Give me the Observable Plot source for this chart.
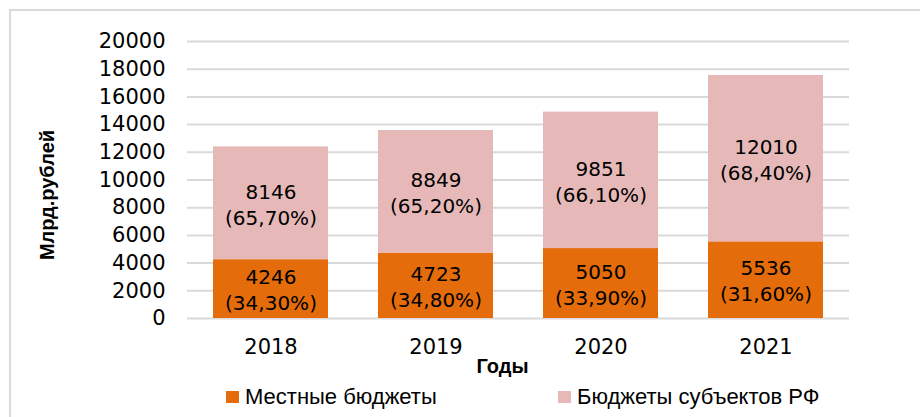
<!DOCTYPE html>
<html>
<head>
<meta charset="utf-8">
<script src="https://cdn.jsdelivr.net/npm/d3@7"></script>
<script src="https://cdn.jsdelivr.net/npm/@observablehq/plot@0.6"></script>
<style>
  html, body { margin: 0; padding: 0; background: #fff; overflow: hidden; }
  #wrap { position: relative; width: 920px; height: 417px; font-family: "DejaVu Sans", sans-serif; }
  #border { position: absolute; left: 9px; top: 9px; width: 1000px; height: 1000px; border: 2px solid #d9d9d9; box-sizing: border-box; }
  #chart { position: absolute; left: 0; top: 0; }
  .leg { position: absolute; top: 384px; font-family: "Liberation Sans", Arial, sans-serif; font-size: 22px; color: #000; display: flex; align-items: center; white-space: nowrap; }
  .sw { width: 13px; height: 12px; margin-right: 6px; display: inline-block; }
</style>
</head>
<body>
<div id="wrap">
  <div id="border"></div>
  <div id="chart"></div>
  <div class="leg" style="left:226px"><span class="sw" id="sw0"></span><span id="lg0"></span></div>
  <div class="leg" style="left:558px"><span class="sw" id="sw1"></span><span id="lg1"></span></div>
</div>
<script>
const years = ["2018", "2019", "2020", "2021"];
const seriesNames = ["Местные бюджеты", "Бюджеты субъектов РФ"];
const localValues = [4246, 4723, 5050, 5536];
const regionalValues = [8146, 8849, 9851, 12010];
const localShares = ["34,30%", "34,80%", "33,90%", "31,60%"];
const regionalShares = ["65,70%", "65,20%", "66,10%", "68,40%"];
const colors = ["#E46C0A", "#E6B9B8"];
const yTicks = [0, 2000, 4000, 6000, 8000, 10000, 12000, 14000, 16000, 18000, 20000];
const yTitle = "Млрд.рублей";
const xTitle = "Годы";

const rows = [];
years.forEach((y, i) => {
  rows.push({year: y, series: seriesNames[0], value: localValues[i], label: `${localValues[i]}\n(${localShares[i]})`});
});
years.forEach((y, i) => {
  rows.push({year: y, series: seriesNames[1], value: regionalValues[i], label: `${regionalValues[i]}\n(${regionalShares[i]})`});
});

const plot = Plot.plot({
  width: 920,
  height: 380,
  marginTop: 41,
  marginBottom: 62,
  marginLeft: 187,
  marginRight: 71,
  style: {fontFamily: "'DejaVu Sans', sans-serif", fontSize: "21px", color: "#000", background: "transparent"},
  x: {domain: years, paddingInner: 0.3, paddingOuter: 0.15, label: null},
  y: {domain: [0, 20000], label: null},
  color: {domain: seriesNames, range: colors},
  marks: [
    Plot.ruleY(yTicks, {stroke: "#d9d9d9", strokeWidth: 2}),
    Plot.barY(rows, Plot.stackY({x: "year", y: "value", z: "series", fill: "series"})),
    Plot.text(rows, Plot.stackY({x: "year", y: "value", z: "series", text: "label", fontSize: 20, lineHeight: 1.3, fill: "#000"})),
    Plot.axisY({ticks: yTicks, tickSize: 0, tickPadding: 22, tickFormat: d => String(d), fontSize: 21, label: null}),
    Plot.axisX({tickSize: 0, tickPadding: 21, fontSize: 21, label: null}),
    Plot.text([xTitle], {frameAnchor: "bottom", dx: -16, dy: 48, lineAnchor: "middle", textAnchor: "middle", fontSize: 20, fontWeight: "bold", fontFamily: "'Liberation Sans', Arial, sans-serif", fill: "#000"}),
    Plot.text([yTitle], {frameAnchor: "left", rotate: -90, dx: -140, dy: 15, lineAnchor: "middle", textAnchor: "middle", fontSize: 20, fontWeight: "bold", fontFamily: "'Liberation Sans', Arial, sans-serif", fill: "#000"})
  ]
});
document.getElementById("chart").appendChild(plot);
document.getElementById("sw0").style.background = colors[0];
document.getElementById("sw1").style.background = colors[1];
document.getElementById("lg0").textContent = seriesNames[0];
document.getElementById("lg1").textContent = seriesNames[1];
</script>
</body>
</html>
